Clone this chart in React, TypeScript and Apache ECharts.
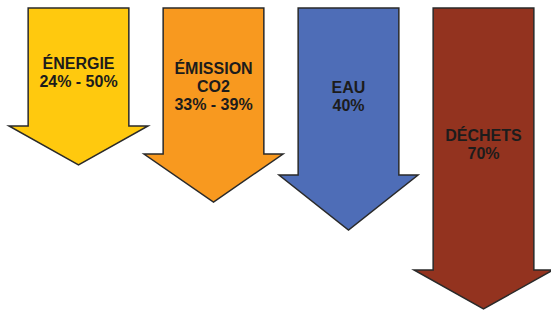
import React, { useEffect, useRef } from "react";
import * as echarts from "echarts";

const categories = ["ÉNERGIE", "ÉMISSION\nCO2", "EAU", "DÉCHETS"];
const valueLabels = ["24% - 50%", "33% - 39%", "40%", "70%"];
const arrowLength = [157, 194, 222, 301];
const arrowColors = ["#FFC90E", "#F8991F", "#4E6DB7", "#93331F"];
const headDepth = [39, 48, 55, 39];

export default function App() {
  const ref = useRef<HTMLDivElement>(null);
  useEffect(() => {
    if (!ref.current) return;
    const chart = echarts.init(ref.current, null, { renderer: "svg" });
    const data = arrowLength.map((v, i) => [i, v]);
    chart.setOption({
      animation: false,
      backgroundColor: "#ffffff",
      grid: { left: 11, top: 8, width: 544, height: 300 },
      xAxis: {
        type: "category",
        data: categories,
        show: false,
      },
      yAxis: {
        type: "value",
        inverse: true,
        min: 0,
        max: 300,
        show: false,
      },
      series: [
        {
          type: "custom",
          clip: false,
          data,
          renderItem: (params: any, api: any) => {
            const idx = params.dataIndex;
            const topPt = api.coord([idx, 0]);
            const tipPt = api.coord([idx, api.value(1)]);
            const band = api.size([1, 0])[0];
            const cx = topPt[0];
            const top = topPt[1];
            const tipY = tipPt[1];
            const wingY = tipY - headDepth[idx];
            const sh = band * 0.373;
            const hh = band * 0.515;
            const points = [
              [cx - sh, top],
              [cx + sh, top],
              [cx + sh, wingY],
              [cx + hh, wingY],
              [cx, tipY],
              [cx - hh, wingY],
              [cx - sh, wingY],
            ];
            const textY = (top + wingY) / 2 + 5;
            return {
              type: "group",
              children: [
                {
                  type: "polygon",
                  shape: { points },
                  style: {
                    fill: arrowColors[idx],
                    stroke: "#2a2a2a",
                    lineWidth: 1.5,
                    lineJoin: "miter",
                  },
                },
                {
                  type: "text",
                  x: cx,
                  y: textY,
                  style: {
                    text: categories[idx] + "\n" + valueLabels[idx],
                    align: "center",
                    verticalAlign: "middle",
                    fontFamily: "'Liberation Sans', Arial, sans-serif",
                    fontWeight: "bold",
                    fontSize: 16,
                    lineHeight: 18,
                    fill: "#1c1c1c",
                  },
                },
              ],
            };
          },
        },
      ],
    });
    return () => chart.dispose();
  }, []);
  return (
    <div
      ref={ref}
      style={{ position: "fixed", left: 0, top: 0, width: 551, height: 310 }}
    />
  );
}
